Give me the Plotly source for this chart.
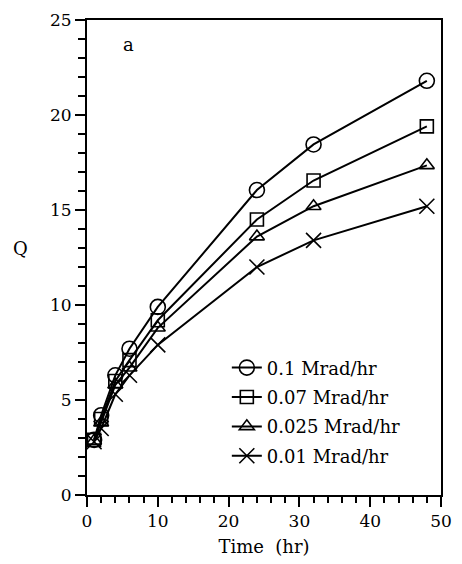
import plotly.graph_objects as go

time_hr = [1, 2, 4, 6, 10, 24, 32, 48]
q_01 = [2.9, 4.2, 6.3, 7.7, 9.9, 16.05, 18.45, 21.8]
q_007 = [2.9, 4.0, 6.0, 7.1, 9.2, 14.5, 16.55, 19.4]
q_0025 = [2.85, 3.8, 5.8, 6.7, 8.8, 13.6, 15.2, 17.35]
q_001 = [2.8, 3.5, 5.3, 6.3, 7.9, 12.0, 13.4, 15.2]
series_names = ["0.1 Mrad/hr", "0.07 Mrad/hr", "0.025 Mrad/hr", "0.01 Mrad/hr"]

FONT = "DejaVu Serif"
symbols = ["circle-open", "square-open", "triangle-up-open", "x-thin-open"]
sizes = [15, 13, 13, 15]

fig = go.Figure()
for i, (name, ys) in enumerate(zip(series_names, [q_01, q_007, q_0025, q_001])):
    fig.add_trace(go.Scatter(
        x=time_hr, y=ys, name=name, mode="lines+markers",
        legendgroup=f"g{i}",
        line=dict(color="black", width=2),
        marker=dict(symbol=symbols[i], size=sizes[i], color="black",
                    line=dict(color="black", width=1.6)),
    ))

fig.add_annotation(x=5.8, y=23.7, text="a", showarrow=False,
                   font=dict(family=FONT, size=18, color="black"))

fig.update_layout(
    width=462, height=564,
    margin=dict(l=87, r=18, t=10, b=69),
    paper_bgcolor="white", plot_bgcolor="white",
    font=dict(family=FONT, size=17, color="black"),
    showlegend=True,
    legend=dict(x=0.395, y=0.175, xanchor="left", yanchor="middle",
                bgcolor="rgba(0,0,0,0)", borderwidth=0,
                font=dict(family=FONT, size=18, color="black"),
                tracegroupgap=3, itemwidth=30),
    xaxis=dict(range=[0, 50], dtick=10, tick0=0, showgrid=False, zeroline=False,
               showline=True, linecolor="black", linewidth=2, mirror=True,
               ticks="outside", ticklen=10, tickwidth=2, tickcolor="black",
               minor=dict(ticks="outside", ticklen=6, tickwidth=1.5, dtick=2, tickcolor="black"),
               title=dict(text="Time  (hr)", font=dict(family=FONT, size=18), standoff=10)),
    yaxis=dict(range=[0, 25], dtick=5, tick0=0, showgrid=False, zeroline=False,
               showline=True, linecolor="black", linewidth=2, mirror=True,
               ticks="outside", ticklen=10, tickwidth=2, tickcolor="black",
               minor=dict(ticks="outside", ticklen=7, tickwidth=1.5, dtick=1, tickcolor="black"),
               title=dict(text="", font=dict(family=FONT, size=18))),
)
fig.add_annotation(xref="paper", yref="paper", x=-0.215, y=0.52, text="Q",
                   showarrow=False, font=dict(family=FONT, size=18, color="black"))

fig.write_html("out.html")
